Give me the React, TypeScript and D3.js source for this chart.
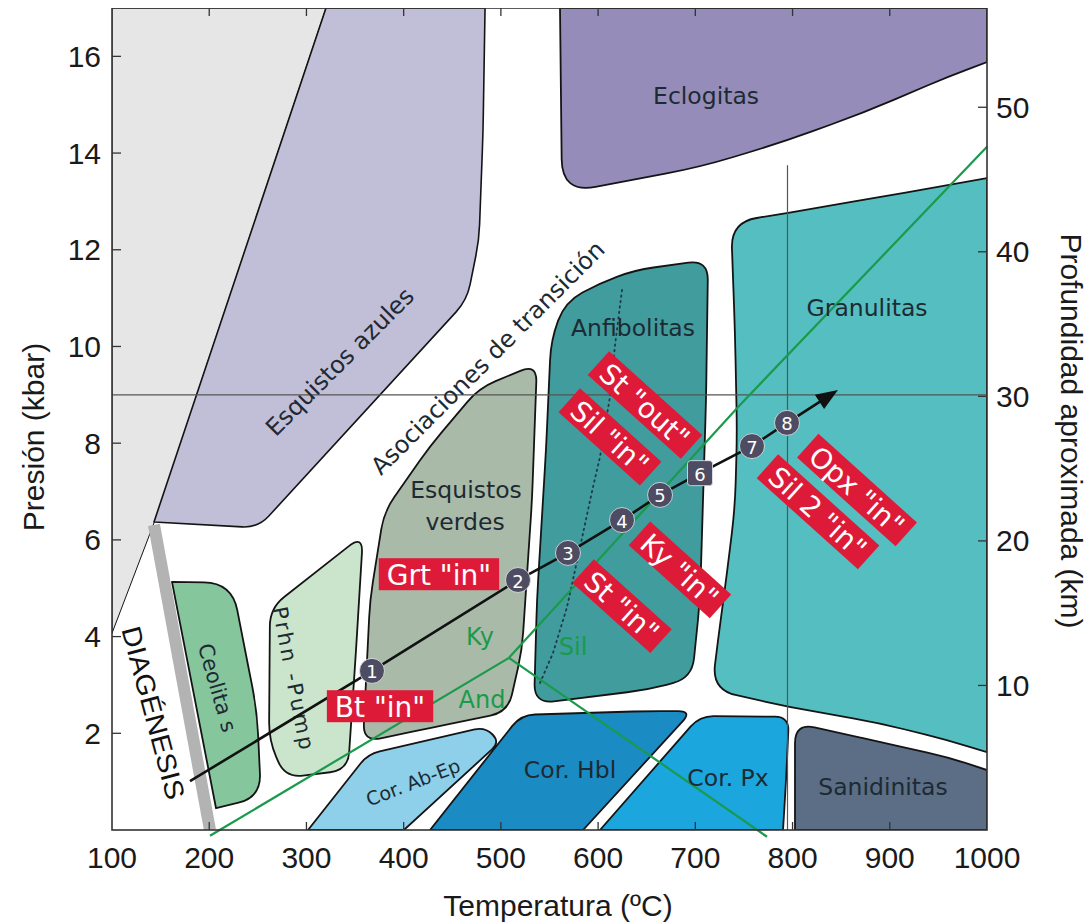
import React, { useLayoutEffect, useRef, useState } from 'react';
import * as d3 from 'd3';

type PT = [number, number];

// ---------- axis data ----------
const tempTicks = [100, 200, 300, 400, 500, 600, 700, 800, 900, 1000];
const pressureTicks = [2, 4, 6, 8, 10, 12, 14, 16];
const depthTicks = [10, 20, 30, 40, 50];

// ---------- facies fields (T in ºC, P in kbar) ----------
const diagenesisZone: PT[] = [[100, 17], [320.1, 17], [143.2, 6.35], [100, 4.07]];
const blueschist: PT[] = [[320.1, 17], [483.7, 17], [481.6, 14.41], [477.5, 12.2], [465.1, 10.96], [250.2, 6.25], [143.2, 6.37]];
const eclogite: PT[] = [[560.8, 17], [1000, 17], [1000, 15.88], [958.9, 15.57], [872.5, 14.83], [787.1, 14.21], [704.8, 13.71], [562.9, 13.17]];
const granulite: PT[] = [[736.7, 12.57], [794.3, 12.76], [889.9, 13.09], [1000, 13.48], [1000, 1.61], [958.9, 1.86], [889.9, 2.21], [797.4, 2.54], [717.1, 2.9], [723.3, 3.93], [732.6, 5.32], [740.8, 6.68], [742.9, 8.21], [740.8, 10.28]];
const amphibolite: PT[] = [[551.5, 10.13], [565.9, 10.92], [601.9, 11.31], [637.9, 11.58], [713.1, 11.79], [711, 8.89], [704.8, 4.76], [696.6, 3.14], [650.3, 2.9], [534.1, 2.61], [537.1, 4.76], [546.4, 7.86]];
const greenschist: PT[] = [[358.2, 1.82], [365.4, 4.76], [379.8, 6.58], [427.1, 7.94], [477.5, 9.14], [537.1, 9.64], [532, 6.82], [521.7, 3.72], [507.3, 2.44], [427.1, 2.11]];
const prehnitePumpellyite: PT[] = [[262.5, 4.59], [261.5, 1.86], [278, 1.08], [342.7, 1.24], [351, 3.72], [358.2, 6.1]];
const zeolite: PT[] = [[161.7, 5.13], [223.4, 5.11], [238.9, 3.51], [249.1, 2.48], [253.3, 0.68], [207, 0.45]];
const hornfelsAbEp: PT[] = [[301.6, 0], [363.3, 1.57], [483.7, 2.13], [499.1, 1.82], [400.3, 0]];
const hornfelsHbl: PT[] = [[427.1, 0], [520.7, 2.38], [650.3, 2.46], [696.6, 2.46], [584.5, 0]];
const hornfelsPx: PT[] = [[601.9, 0], [704.8, 2.36], [796.3, 2.34], [793.3, 1.03], [790.2, 0]];
const sanidinite: PT[] = [[802.5, 0], [802.5, 2.21], [889.9, 1.82], [958.9, 1.51], [1000, 1.24], [1000, 0]];
const diagenesisBar: PT[] = [[143.2, 6.31], [200.8, 0]];

// ---------- Al2SiO5 and other lines ----------
const kyAnd: PT[] = [[200.8, -0.12], [508.3, 3.56]];
const kySil: PT[] = [[508.3, 3.56], [745.9, 8.79], [1000, 14.13]];
const andSil: PT[] = [[508.3, 3.56], [773.7, -0.14]];
const dottedLine: PT[] = [[624.6, 11.17], [617.4, 10.03], [612.2, 8.96], [601.9, 7.71], [594.7, 7.09], [581.4, 5.85], [568, 4.61], [553.6, 3.66], [540.2, 3.04]];
const refPressure = 9;
const refTemp = 794.8;
const refTempTop = 13.75;

// ---------- P-T path ----------
const pathStart: PT = [180.2, 1.01];
const pathEnd: PT = [846.7, 9.1];
const pathStations: { n: string; T: number; P: number }[] = [
  { n: '1', T: 367.4, P: 3.29 },
  { n: '2', T: 517.6, P: 5.17 },
  { n: '3', T: 569, P: 5.73 },
  { n: '4', T: 624.6, P: 6.41 },
  { n: '5', T: 663.7, P: 6.93 },
  { n: '6', T: 704.8, P: 7.38 },
  { n: '7', T: 758.3, P: 7.94 },
  { n: '8', T: 794.3, P: 8.42 },
];

// ---------- labels ----------
const isograds: { text: string; T: number; P: number; angle: number }[] = [
  { text: 'Bt "in"', T: 375.7, P: 2.56, angle: 0 },
  { text: 'Grt "in"', T: 436.3, P: 5.29, angle: 0 },
  { text: 'St "out"', T: 648.2, P: 8.79, angle: 42 },
  { text: 'Sil "in"', T: 612.2, P: 8.13, angle: 42 },
  { text: 'Ky "in"', T: 684.2, P: 5.38, angle: 42 },
  { text: 'St "in"', T: 624.6, P: 4.63, angle: 42 },
  { text: 'Opx "in"', T: 866.3, P: 7.03, angle: 42 },
  { text: 'Sil 2 "in"', T: 826.2, P: 6.58, angle: 42 },
];

const faciesNames: { text: string; T: number; P: number; angle: number }[] = [
  { text: 'Eclogitas', T: 711, P: 15.18, angle: 0 },
  { text: 'Granulitas', T: 876.6, P: 10.8, angle: 0 },
  { text: 'Anfibolitas', T: 635.9, P: 10.38, angle: 0 },
  { text: 'Esquistos', T: 464.1, P: 7.03, angle: 0 },
  { text: 'verdes', T: 463.1, P: 6.37, angle: 0 },
  { text: 'Esquistos azules', T: 334.5, P: 9.68, angle: -45 },
  { text: 'Asociaciones de transición', T: 486.7, P: 9.76, angle: -45 },
  { text: 'Cor. Hbl', T: 571.1, P: 1.24, angle: 0 },
  { text: 'Cor. Px', T: 733.6, P: 1.08, angle: 0 },
  { text: 'Sanidinitas', T: 893, P: 0.89, angle: 0 },
];

const polymorphLabels: { text: string; T: number; P: number }[] = [
  { text: 'Ky', T: 478.5, P: 3.99 },
  { text: 'And', T: 480.6, P: 2.69 },
  { text: 'Sil', T: 574.2, P: 3.78 },
];

// ---------- scales ----------
const x = d3.scaleLinear().domain([100, 1000]).range([112, 987]);
const y = d3.scaleLinear().domain([0, 17]).range([830, 8]);
const yDepth = d3.scaleLinear().domain([0, 10]).range([830, 830 - 144.55]);

const RED = '#dd1b38';
const GREEN = '#1a9a4c';
const TEXT = '#1d2a32';
const SANS = 'Liberation Sans, Arial, sans-serif';
const VERD = 'DejaVu Sans, Verdana, sans-serif';

function roundedPath(data: PT[], radius: number, sharpIdx: number[] = []): string {
  const pts = data.map(([t, p]) => [x(t), y(p)] as [number, number]);
  const n = pts.length;
  let d = '';
  for (let i = 0; i < n; i++) {
    const p = pts[i];
    const prev = pts[(i - 1 + n) % n];
    const next = pts[(i + 1) % n];
    const [t, pr] = data[i];
    const onFrame = t <= 100.5 || t >= 999.5 || pr <= 0.01 || pr >= 16.99;
    const r = onFrame || sharpIdx.includes(i) ? 0 : radius;
    const d1 = Math.hypot(prev[0] - p[0], prev[1] - p[1]);
    const d2 = Math.hypot(next[0] - p[0], next[1] - p[1]);
    const rr = Math.min(r, d1 / 2, d2 / 2);
    const a = [p[0] + ((prev[0] - p[0]) * rr) / d1, p[1] + ((prev[1] - p[1]) * rr) / d1];
    const b = [p[0] + ((next[0] - p[0]) * rr) / d2, p[1] + ((next[1] - p[1]) * rr) / d2];
    d += `${i === 0 ? 'M' : 'L'}${a[0]},${a[1]}Q${p[0]},${p[1]} ${b[0]},${b[1]}`;
  }
  return d + 'Z';
}

const line = d3.line<PT>().x((d) => x(d[0])).y((d) => y(d[1]));

const regions: { data: PT[]; fill: string; r: number; sharp?: number[]; sw: number }[] = [
  { data: diagenesisZone, fill: '#e6e6e6', r: 0, sw: 1 },
  { data: blueschist, fill: '#c1bed8', r: 16, sharp: [6], sw: 1.6 },
  { data: eclogite, fill: '#958cba', r: 34, sw: 1.8 },
  { data: granulite, fill: '#55bec0', r: 26, sw: 1.8 },
  { data: amphibolite, fill: '#419c9d', r: 20, sw: 1.8 },
  { data: greenschist, fill: '#a9baa8', r: 18, sw: 1.8 },
  { data: prehnitePumpellyite, fill: '#cbe5cd', r: 18, sw: 1.8 },
  { data: zeolite, fill: '#86c69d', r: 28, sharp: [0, 5], sw: 1.8 },
  { data: hornfelsAbEp, fill: '#8ed0e9', r: 12, sw: 1.8 },
  { data: hornfelsHbl, fill: '#1b8bc4', r: 14, sw: 1.8 },
  { data: hornfelsPx, fill: '#1ba6dd', r: 14, sw: 1.8 },
  { data: sanidinite, fill: '#5b6e86', r: 20, sw: 1.8 },
];

function IsogradLabel({ text, T, P, angle }: { text: string; T: number; P: number; angle: number }) {
  const ref = useRef<SVGTextElement>(null);
  const [w, setW] = useState(text.length * 15);
  useLayoutEffect(() => {
    if (ref.current) setW(ref.current.getComputedTextLength());
  }, [text]);
  return (
    <g transform={`translate(${x(T)},${y(P)}) rotate(${angle})`}>
      <rect x={-w / 2 - 8} y={-16} width={w + 16} height={32} fill={RED} />
      <text ref={ref} textAnchor="middle" dominantBaseline="central" dy={1} fill="#fff" fontFamily={VERD} fontSize={28}>
        {text}
      </text>
    </g>
  );
}

export default function App() {
  const px0 = x(100), px1 = x(1000), py0 = y(0), py1 = y(17);
  // arrow geometry
  const ex = x(pathEnd[0]), ey = y(pathEnd[1]);
  const last = pathStations[pathStations.length - 1];
  const lx = x(last.T), ly = y(last.P);
  const len = Math.hypot(ex - lx, ey - ly);
  const ux = (ex - lx) / len, uy = (ey - ly) / len;
  const ah = 22, aw = 8.5;
  const bx = ex - ux * ah, by = ey - uy * ah;
  const pathPts: PT[] = [pathStart, ...pathStations.map((s) => [s.T, s.P] as PT)];
  const pathD = line(pathPts) + `L${bx + ux * 3},${by + uy * 3}`;

  return (
    <svg width={1092} height={924} viewBox="0 0 1092 924" style={{ display: 'block', margin: '-8px 0 0 -8px', background: '#fff' }}>
      <defs>
        <clipPath id="plot">
          <rect x={px0} y={py1} width={px1 - px0} height={py0 - py1} />
        </clipPath>
      </defs>
      <rect x={0} y={0} width={1092} height={924} fill="#fff" />
      <g clipPath="url(#plot)">
        {regions.map((r, i) => (
          <path key={i} d={roundedPath(r.data, r.r, r.sharp)} fill={r.fill} stroke="#141414" strokeWidth={r.sw} strokeLinejoin="round" />
        ))}
        {/* diagenesis bar */}
        <line x1={x(diagenesisBar[0][0])} y1={y(diagenesisBar[0][1])} x2={x(diagenesisBar[1][0])} y2={y(diagenesisBar[1][1])} stroke="#b3b3b3" strokeWidth={12} />
        {/* reference lines */}
        <line x1={px0} x2={px1} y1={y(refPressure)} y2={y(refPressure)} stroke="#555" strokeWidth={1.2} />
        <line x1={x(refTemp)} x2={x(refTemp)} y1={y(refTempTop)} y2={py0} stroke="#555" strokeWidth={1.2} />
        {/* dotted */}
        <path d={line(dottedLine) || ''} fill="none" stroke="#1f3a48" strokeWidth={1.8} strokeDasharray="1.5 4" strokeLinecap="round" />
      </g>
      {/* Al2SiO5 lines */}
      {[kyAnd, kySil, andSil].map((l, i) => (
        <path key={i} d={line(l) || ''} fill="none" stroke={GREEN} strokeWidth={2.2} />
      ))}
      {/* facies names */}
      {faciesNames.map((f, i) => (
        <text key={i} transform={`translate(${x(f.T)},${y(f.P)}) rotate(${f.angle})`} textAnchor="middle" dominantBaseline="central" fill={TEXT} fontFamily={VERD} fontSize={f.angle ? 24 : 23.5}>
          {f.text}
        </text>
      ))}
      <text transform={`translate(${x(409.6)},${y(0.99)}) rotate(-21)`} textAnchor="middle" dominantBaseline="central" fill={TEXT} fontFamily={VERD} fontSize={19}>
        Cor. Ab-Ep
      </text>
      <text transform={`translate(${x(208)},${y(2.94)}) rotate(74)`} textAnchor="middle" dominantBaseline="central" fill={TEXT} fontFamily={VERD} fontSize={21}>
        Ceolita s
      </text>
      <text transform={`translate(${x(286.2)},${y(3.14)}) rotate(79)`} textAnchor="middle" dominantBaseline="central" fill={TEXT} fontFamily={VERD} fontSize={21} textLength={145} lengthAdjust="spacing">
        Prhn -Pump
      </text>
      <text transform={`translate(${x(142.2)},${y(2.42)}) rotate(75)`} textAnchor="middle" dominantBaseline="central" fill="#111" fontFamily={SANS} fontSize={27} textLength={178} lengthAdjust="spacingAndGlyphs">
        DIAGÉNESIS
      </text>
      {polymorphLabels.map((p, i) => (
        <text key={i} x={x(p.T)} y={y(p.P)} textAnchor="middle" dominantBaseline="central" fill={GREEN} fontFamily={VERD} fontSize={24}>
          {p.text}
        </text>
      ))}
      {/* P-T path */}
      <path d={pathD} fill="none" stroke="#111" strokeWidth={2.6} />
      <polygon points={`${ex},${ey} ${bx - uy * aw},${by + ux * aw} ${bx + uy * aw},${by - ux * aw}`} fill="#111" />
      {/* isograd labels */}
      {isograds.map((l, i) => (
        <IsogradLabel key={i} {...l} />
      ))}
      {pathStations.map((s) => (
        <g key={s.n} transform={`translate(${x(s.T)},${y(s.P)})`}>
          {s.n === '6' ? (
            <rect x={-12.5} y={-12.5} width={25} height={25} rx={3} fill="#4d4c62" stroke="#e8e8ee" strokeWidth={0.8} />
          ) : (
            <circle r={12.5} fill="#4d4c62" stroke="#e8e8ee" strokeWidth={0.8} />
          )}
          <text textAnchor="middle" dominantBaseline="central" dy={1} fill="#fff" fontFamily={VERD} fontSize={18}>
            {s.n}
          </text>
        </g>
      ))}
      {/* frame */}
      <rect x={px0} y={py1} width={px1 - px0} height={py0 - py1} fill="none" stroke="#333" strokeWidth={1.6} />
      {/* ticks */}
      {tempTicks.slice(1, -1).map((t) => (
        <g key={t}>
          <line x1={x(t)} x2={x(t)} y1={py0} y2={py0 - 8} stroke="#333" strokeWidth={1.3} />
          <line x1={x(t)} x2={x(t)} y1={py1} y2={py1 + 8} stroke="#333" strokeWidth={1.3} />
        </g>
      ))}
      {pressureTicks.map((p) => (
        <line key={p} x1={px0} x2={px0 + 9} y1={y(p)} y2={y(p)} stroke="#333" strokeWidth={1.3} />
      ))}
      {depthTicks.map((d) => (
        <line key={d} x1={px1} x2={px1 - 9} y1={yDepth(d)} y2={yDepth(d)} stroke="#333" strokeWidth={1.3} />
      ))}
      {/* tick labels */}
      {tempTicks.map((t) => (
        <text key={t} x={x(t)} y={868} textAnchor="middle" fill="#1a1a1a" fontFamily={SANS} fontSize={30}>
          {t}
        </text>
      ))}
      {pressureTicks.map((p) => (
        <text key={p} x={101} y={y(p)} textAnchor="end" dominantBaseline="central" fill="#1a1a1a" fontFamily={SANS} fontSize={30}>
          {p}
        </text>
      ))}
      {depthTicks.map((d) => (
        <text key={d} x={996} y={yDepth(d)} textAnchor="start" dominantBaseline="central" fill="#1a1a1a" fontFamily={SANS} fontSize={30}>
          {d}
        </text>
      ))}
      {/* axis titles */}
      <text x={558} y={916} textAnchor="middle" fill="#1a1a1a" fontFamily={SANS} fontSize={30}>
        Temperatura (ºC)
      </text>
      <text transform="translate(33,437) rotate(-90)" textAnchor="middle" dominantBaseline="central" fill="#1a1a1a" fontFamily={SANS} fontSize={30}>
        Presión (kbar)
      </text>
      <text transform="translate(1071,431) rotate(90)" textAnchor="middle" dominantBaseline="central" fill="#1a1a1a" fontFamily={SANS} fontSize={30}>
        Profundidad aproximada (km)
      </text>
    </svg>
  );
}
